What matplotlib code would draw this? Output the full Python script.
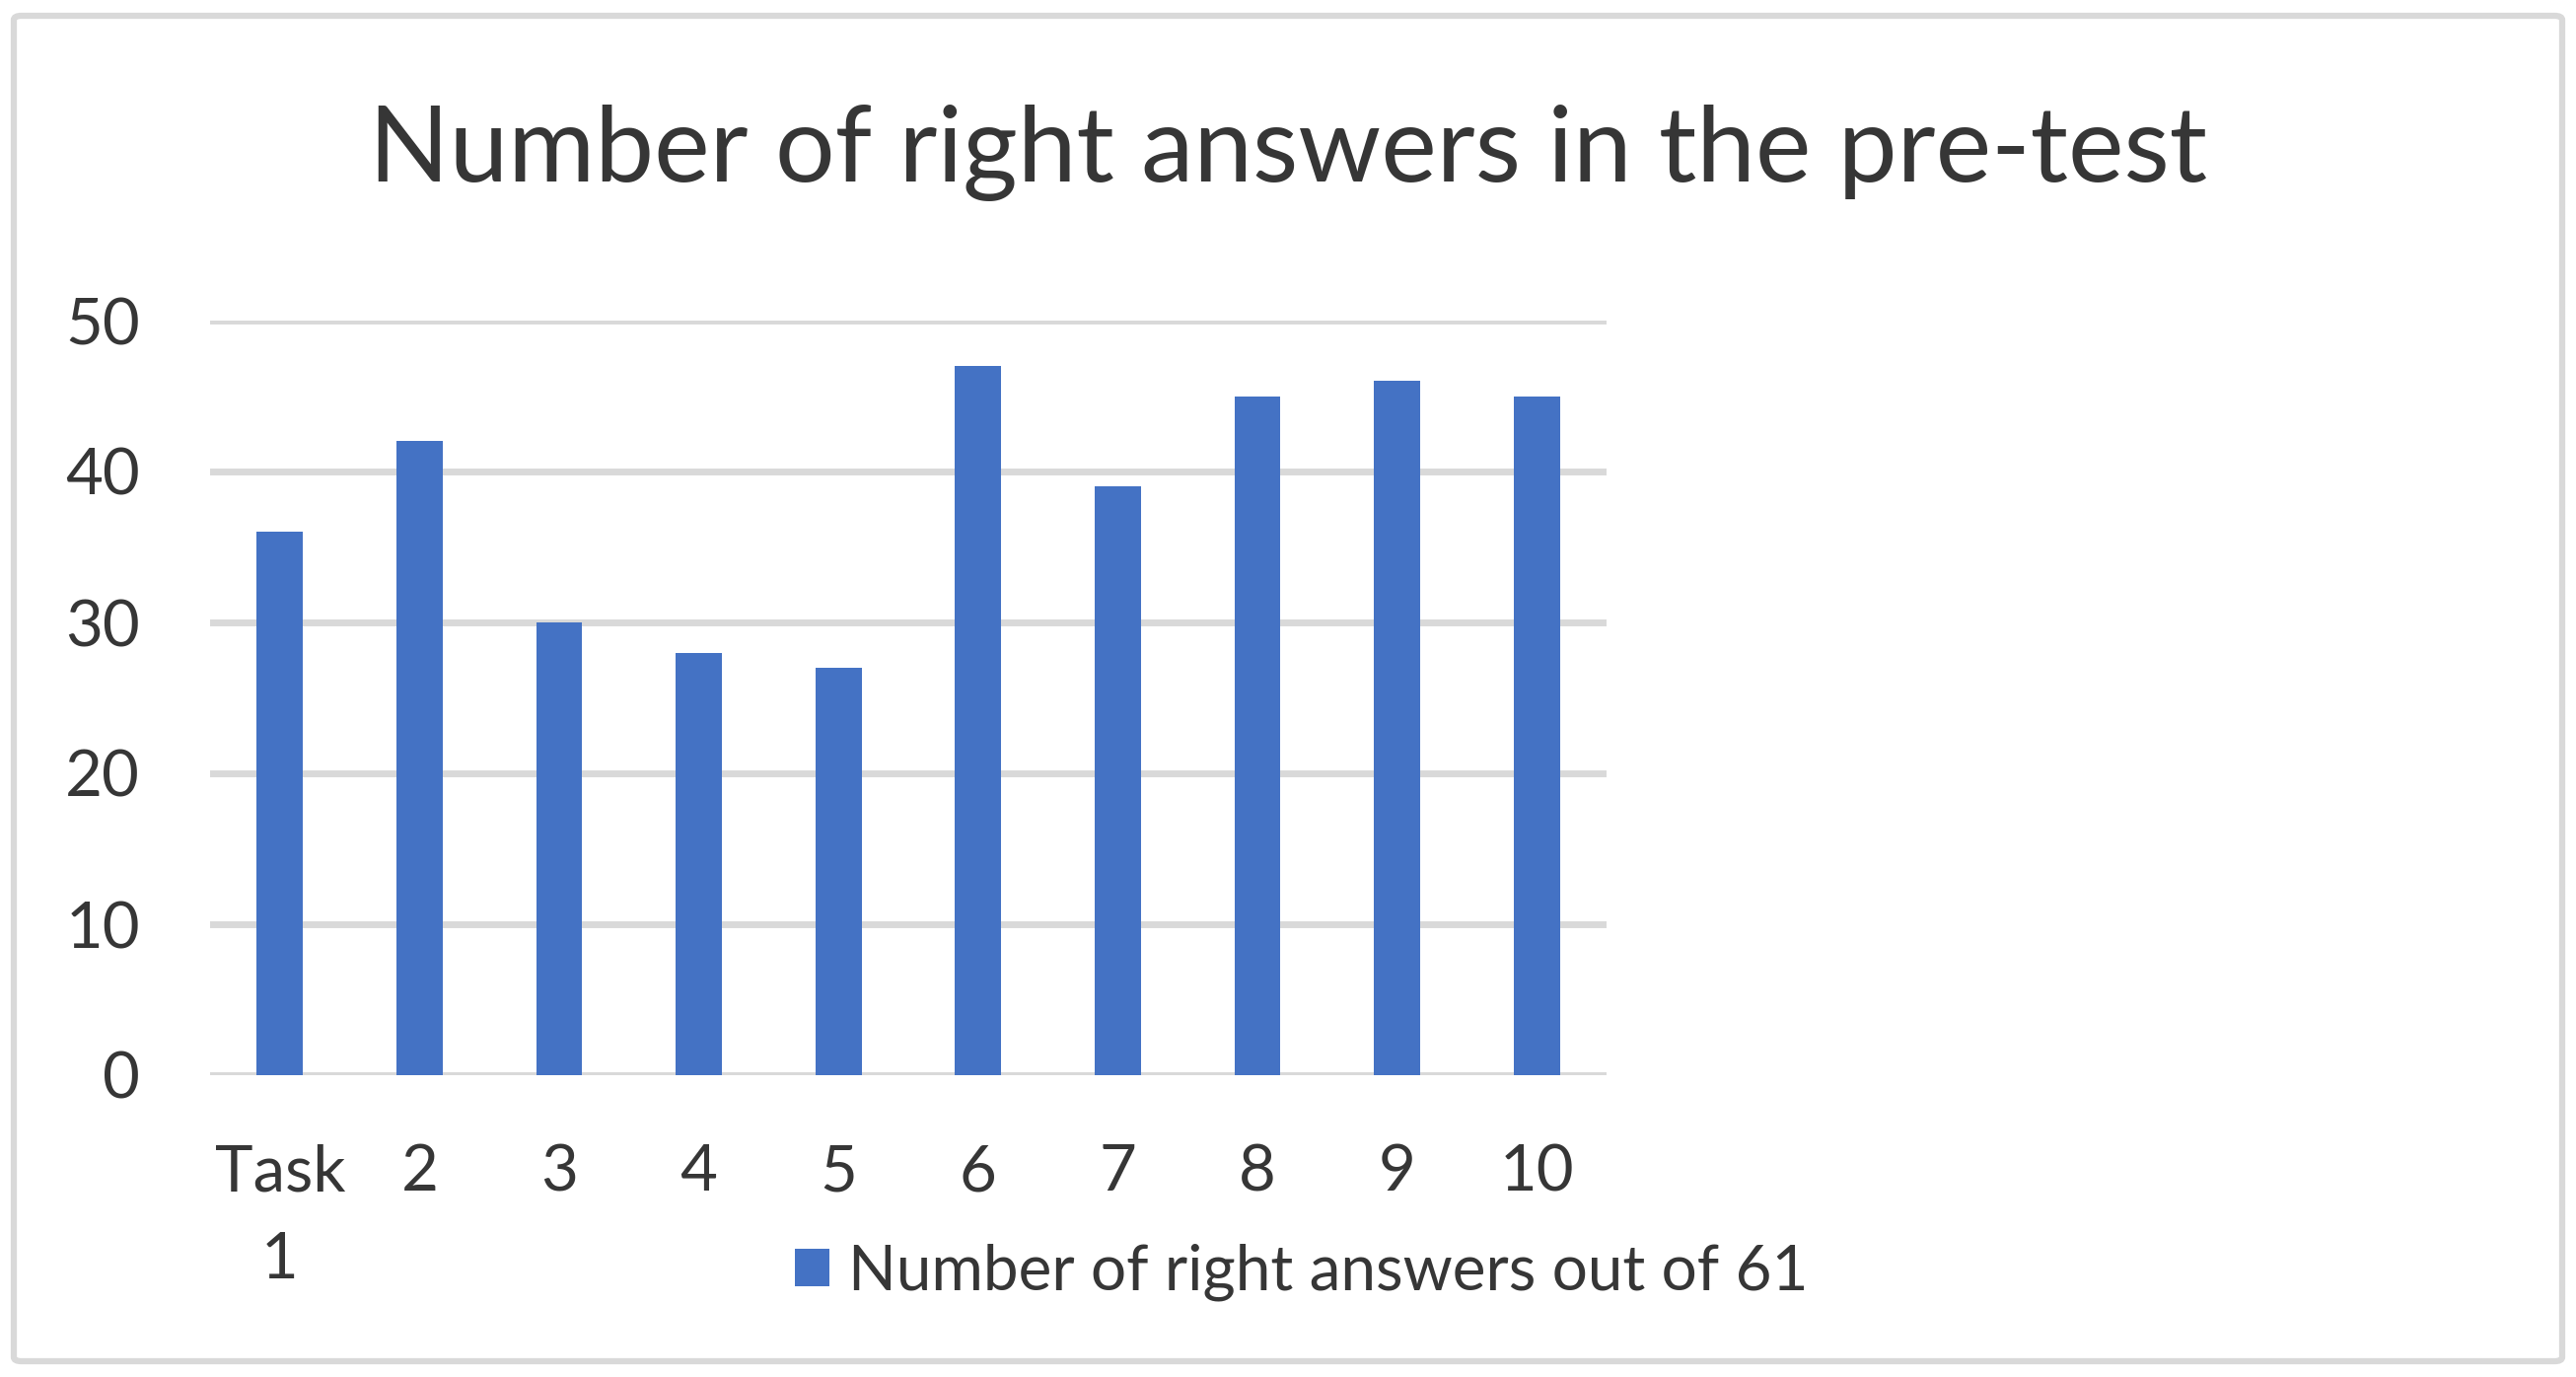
import matplotlib.pyplot as plt
from matplotlib.patches import FancyBboxPatch

# Data
tasks = ["Task\n1", "2", "3", "4", "5", "6", "7", "8", "9", "10"]
right_answers = [36, 42, 30, 28, 27, 47, 39, 45, 46, 45]
y_ticks = [0, 10, 20, 30, 40, 50]
series_name = "Number of right answers out of 61"
title = "Number of right answers in the pre-test"

bar_color = '#4472C4'
grid_color = '#D9D9D9'
text_color = '#363636'

plt.rcParams['font.family'] = ['Lato', 'DejaVu Sans']

fig = plt.figure(figsize=(26.12, 13.96), dpi=100)
fig.patch.set_facecolor('white')

# Chart area border (light gray frame around the whole chart)
border = FancyBboxPatch((14 / 2612, 16 / 1396), 2584 / 2612, 1364 / 1396,
                        boxstyle='round,pad=0,rounding_size=0.003',
                        transform=fig.transFigure, facecolor='none',
                        edgecolor=grid_color, linewidth=4.5)
fig.patches.append(border)

ax = fig.add_axes([213 / 2612, 1 - 1090 / 1396, (1629 - 213) / 2612, (1090 - 325) / 1396])

x = range(len(tasks))
ax.bar(x, right_answers, width=0.33, color=bar_color, label=series_name, zorder=3)

ax.set_xlim(-0.5, len(tasks) - 0.5)
ax.set_ylim(0, 50)
ax.set_yticks(y_ticks)
ax.set_xticks(list(x))
ax.set_xticklabels(tasks, linespacing=1.62)
ax.yaxis.grid(True, color=grid_color, linewidth=5, zorder=0)
ax.set_axisbelow(True)
for spine in ax.spines.values():
    spine.set_visible(False)
ax.tick_params(axis='both', length=0, colors=text_color, labelsize=47)
ax.tick_params(axis='y', pad=51)
ax.tick_params(axis='x', pad=50)

fig.text(0.5, 1 - 155 / 1396, title, ha='center', va='center', fontsize=77, color=text_color)

leg = fig.legend(loc='center', bbox_to_anchor=(1320 / 2612, 1 - 1290 / 1396), frameon=False,
                 fontsize=46, handlelength=0.55, handleheight=0.55, handletextpad=0.3,
                 labelcolor=text_color)

fig.savefig('out.png', dpi=100, facecolor=fig.get_facecolor())
